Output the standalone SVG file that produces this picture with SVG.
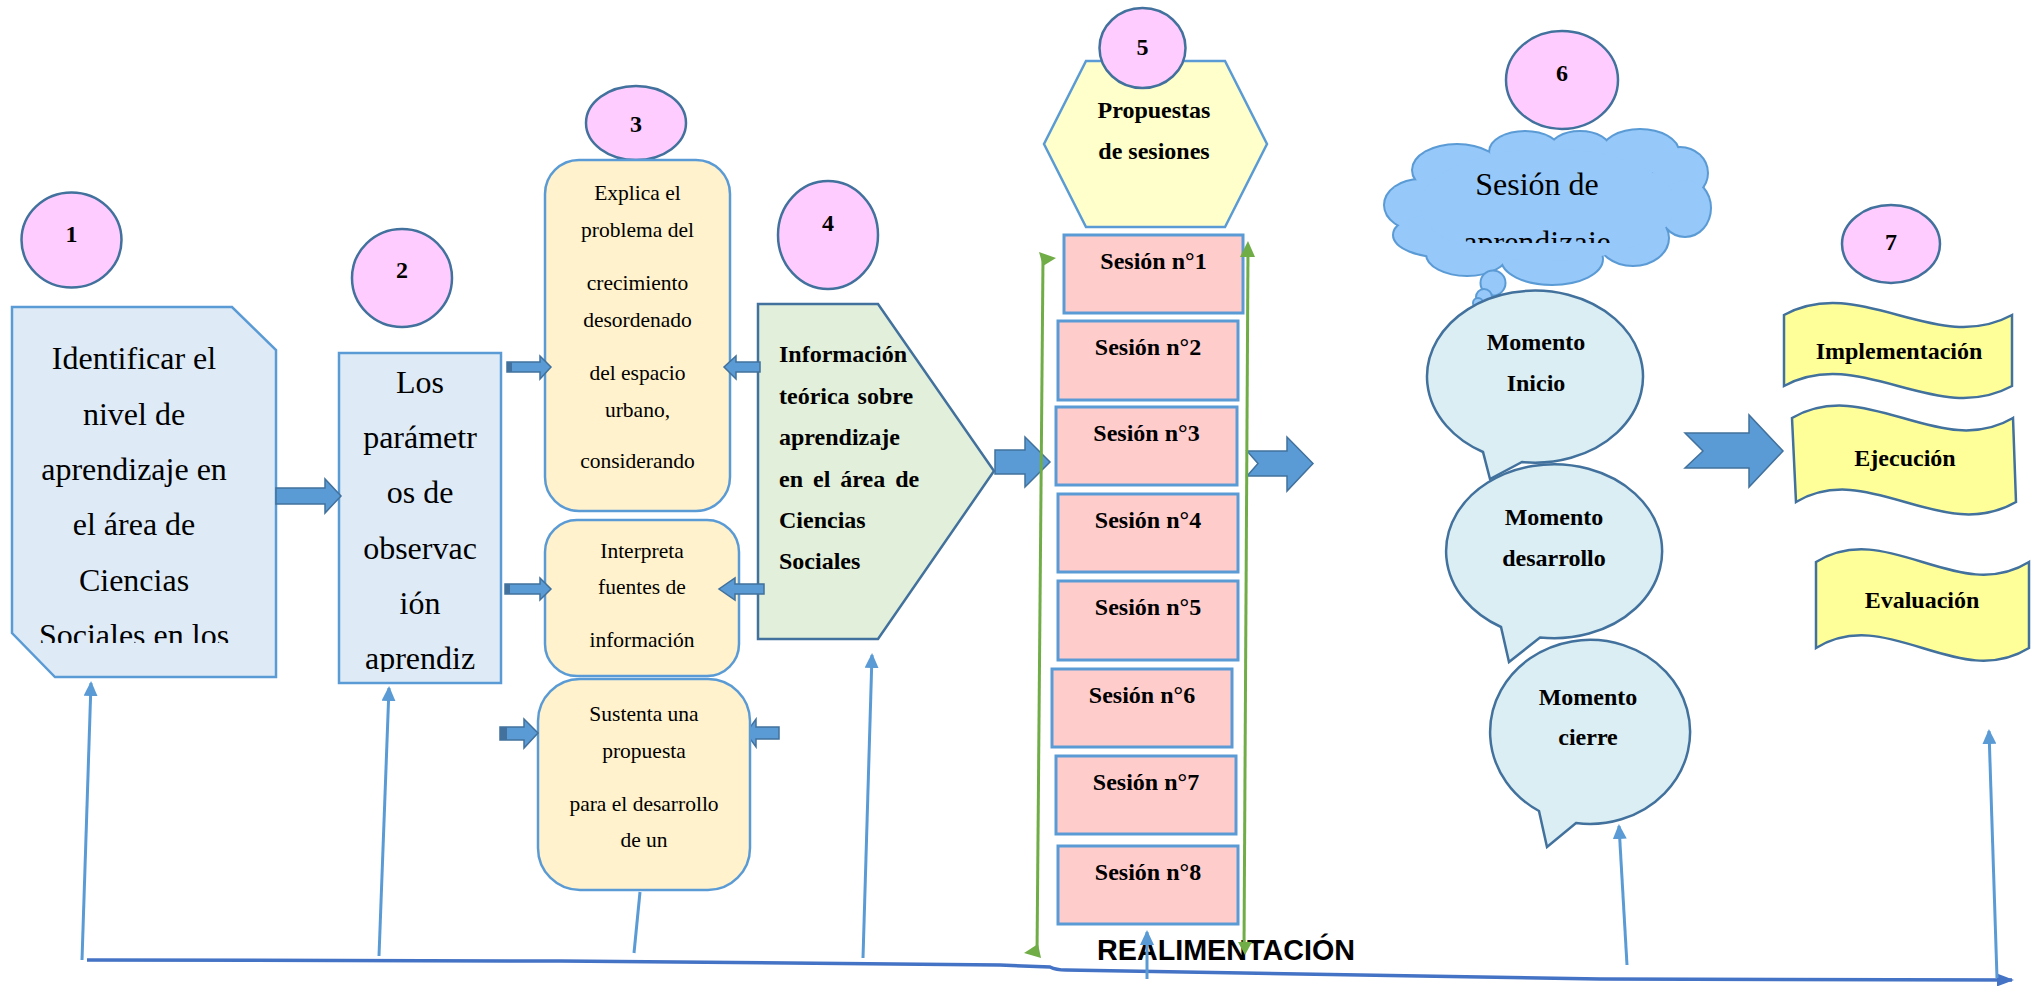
<svg xmlns="http://www.w3.org/2000/svg" width="2038" height="986" viewBox="0 0 2038 986">
<style>
.t{font-family:"Liberation Serif","Times New Roman",serif;fill:#000}
.b{font-weight:bold}
.m{text-anchor:middle}
.num{font-family:"Liberation Serif","Times New Roman",serif;font-weight:bold;font-size:24px;text-anchor:middle;fill:#000}
.circ{fill:#FFCCFF;stroke:#41719C;stroke-width:2.5}
.bluebox{fill:#DEEBF7;stroke:#5B9BD5;stroke-width:2.5}
.yel{fill:#FFF2CC;stroke:#5B9BD5;stroke-width:2.5}
.ses{fill:#FFCCCC;stroke:#5B9BD5;stroke-width:3}
.bub{fill:#DAEEF3;stroke:#41719C;stroke-width:2.5}
.ban{fill:#FFFF99;stroke:#41719C;stroke-width:2.5}
.barrow{fill:#5B9BD5;stroke:#41719C;stroke-width:1.5}
.dark{fill:#41719C}
.fb{fill:none;stroke:#5B9BD5;stroke-width:3}
.green{fill:none;stroke:#70AD47;stroke-width:3}
.gh{fill:#70AD47}
.cloudS{fill:#96C8FA;stroke:#5B9BD5;stroke-width:4}
.cloudF{fill:#96C8FA}
</style>
<defs>
<marker id="ah" markerWidth="15" markerHeight="14" refX="13" refY="7" orient="auto" markerUnits="userSpaceOnUse"><path d="M0,0 L15,7 L0,14 Z" fill="#5B9BD5"/></marker>
<marker id="ah2" markerWidth="17" markerHeight="13" refX="15" refY="6.5" orient="auto" markerUnits="userSpaceOnUse"><path d="M0,0 L17,6.5 L0,13 Z" fill="#4472C4"/></marker>
<clipPath id="c1"><rect x="12" y="300" width="270" height="343"/></clipPath>
<clipPath id="c2"><rect x="339" y="353" width="162" height="319"/></clipPath>
<clipPath id="c6"><rect x="1380" y="120" width="340" height="123"/></clipPath>
</defs>
<rect width="2038" height="986" fill="#fff"/>

<!-- Node 1 -->
<g id="node1">
<ellipse class="circ" cx="71.5" cy="240" rx="50" ry="47.5"/>
<text class="num" x="71.5" y="242">1</text>
<path class="bluebox" d="M12,307 L232,307 L276,350 L276,677 L55,677 L12,633 Z"/>
<g clip-path="url(#c1)" class="t m" font-size="32">
<text x="134" y="369">Identificar el</text>
<text x="134" y="425">nivel de</text>
<text x="134" y="480">aprendizaje en</text>
<text x="134" y="535">el área de</text>
<text x="134" y="591">Ciencias</text>
<text x="134" y="646">Sociales en los</text>
</g>
</g>

<!-- Node 2 -->
<g id="node2">
<ellipse class="circ" cx="402" cy="278" rx="50" ry="49"/>
<text class="num" x="402" y="278">2</text>
<rect class="bluebox" x="339" y="353" width="162" height="330"/>
<g clip-path="url(#c2)" class="t m" font-size="32">
<text x="420" y="393">Los</text>
<text x="420" y="448">parámetr</text>
<text x="420" y="503">os de</text>
<text x="420" y="559">observac</text>
<text x="420" y="614">ión</text>
<text x="420" y="669">aprendiz</text>
</g>
</g>

<!-- small arrow hidden partly behind box 3c -->
<g id="arrow3c-right">
<path class="barrow" d="M779,727 L756,727 L756,719 L746,733 L756,747 L756,739 L779,739 Z"/>
</g>

<!-- Node 3 -->
<g id="node3">
<ellipse class="circ" cx="636" cy="123" rx="50" ry="37"/>
<text class="num" x="636" y="132">3</text>
<rect class="yel" x="545" y="160" width="185" height="351" rx="34" ry="34"/>
<g class="t m" font-size="21.5">
<text x="637.5" y="200">Explica el</text>
<text x="637.5" y="237">problema del</text>
<text x="637.5" y="290">crecimiento</text>
<text x="637.5" y="327">desordenado</text>
<text x="637.5" y="380">del espacio</text>
<text x="637.5" y="417">urbano,</text>
<text x="637.5" y="468">considerando</text>
</g>
<rect class="yel" x="545" y="520" width="194" height="156" rx="32" ry="32"/>
<g class="t m" font-size="21.5">
<text x="642" y="558">Interpreta</text>
<text x="642" y="594">fuentes de</text>
<text x="642" y="647">información</text>
</g>
<rect class="yel" x="538" y="679" width="212" height="211" rx="42" ry="42"/>
<g class="t m" font-size="21.5">
<text x="644" y="721">Sustenta una</text>
<text x="644" y="758">propuesta</text>
<text x="644" y="811">para el desarrollo</text>
<text x="644" y="847">de un</text>
</g>
</g>

<!-- Node 4 -->
<g id="node4">
<ellipse class="circ" cx="828" cy="235" rx="50" ry="54"/>
<text class="num" x="828" y="231">4</text>
<path d="M758,304 L878,304 L994,471 L878,639 L758,639 Z" fill="#E2EFDA" stroke="#41719C" stroke-width="2.5"/>
<g class="t b" font-size="24">
<text x="779" y="362">Información</text>
<text x="779" y="404" word-spacing="2">teórica sobre</text>
<text x="779" y="445">aprendizaje</text>
<text x="779" y="487" word-spacing="4">en el área de</text>
<text x="779" y="528">Ciencias</text>
<text x="779" y="569">Sociales</text>
</g>
</g>

<!-- Node 5 -->
<g id="node5">
<polygon points="1086,61 1225,61 1267,144 1225,227 1086,227 1044,144" fill="#FFFFCC" stroke="#5B9BD5" stroke-width="2.5"/>
<ellipse class="circ" cx="1142.5" cy="48" rx="43" ry="40"/>
<text class="num" x="1142.5" y="55">5</text>
<g class="t b m" font-size="24">
<text x="1154" y="118">Propuestas</text>
<text x="1154" y="159">de sesiones</text>
</g>
</g>

<g id="sessions" class="t b m" font-size="24">
<g id="s1"><rect class="ses" x="1064" y="235" width="179" height="78"/><text x="1153.5" y="269">Sesión n°1</text></g>
<g id="s2"><rect class="ses" x="1058" y="321" width="180" height="79"/><text x="1148" y="355">Sesión n°2</text></g>
<g id="s3"><rect class="ses" x="1056" y="407" width="181" height="78"/><text x="1146.5" y="441">Sesión n°3</text></g>
<g id="s4"><rect class="ses" x="1058" y="494" width="180" height="78"/><text x="1148" y="528">Sesión n°4</text></g>
<g id="s5"><rect class="ses" x="1058" y="581" width="180" height="79"/><text x="1148" y="615">Sesión n°5</text></g>
<g id="s6"><rect class="ses" x="1052" y="669" width="180" height="78"/><text x="1142" y="703">Sesión n°6</text></g>
<g id="s7"><rect class="ses" x="1056" y="756" width="180" height="78"/><text x="1146" y="790">Sesión n°7</text></g>
<g id="s8"><rect class="ses" x="1058" y="846" width="180" height="78"/><text x="1148" y="880">Sesión n°8</text></g>
</g>

<!-- Node 6 -->
<g id="node6">
<ellipse class="circ" cx="1562" cy="80" rx="56" ry="49"/>
<text class="num" x="1562" y="81">6</text>
<g id="cloud">
<g class="cloudS">
<ellipse cx="1420" cy="205" rx="35" ry="25"/>
<ellipse cx="1447" cy="235" rx="53" ry="22"/>
<ellipse cx="1457" cy="170" rx="44" ry="25"/>
<ellipse cx="1525" cy="152" rx="35" ry="20"/>
<ellipse cx="1580" cy="150" rx="30" ry="18"/>
<ellipse cx="1640" cy="152" rx="38" ry="22"/>
<ellipse cx="1680" cy="173" rx="27" ry="25"/>
<ellipse cx="1685" cy="208" rx="25" ry="28"/>
<ellipse cx="1633" cy="238" rx="35" ry="27"/>
<ellipse cx="1552" cy="259" rx="50" ry="25"/>
<ellipse cx="1467" cy="254" rx="40" ry="21"/>
</g>
<g class="cloudF">
<ellipse cx="1420" cy="205" rx="35" ry="25"/>
<ellipse cx="1447" cy="235" rx="53" ry="22"/>
<ellipse cx="1457" cy="170" rx="44" ry="25"/>
<ellipse cx="1525" cy="152" rx="35" ry="20"/>
<ellipse cx="1580" cy="150" rx="30" ry="18"/>
<ellipse cx="1640" cy="152" rx="38" ry="22"/>
<ellipse cx="1680" cy="173" rx="27" ry="25"/>
<ellipse cx="1685" cy="208" rx="25" ry="28"/>
<ellipse cx="1633" cy="238" rx="35" ry="27"/>
<ellipse cx="1552" cy="259" rx="50" ry="25"/>
<ellipse cx="1467" cy="254" rx="40" ry="21"/>
<ellipse cx="1548" cy="205" rx="128" ry="56"/>
</g>
<circle cx="1493" cy="283" r="12.5" fill="#96C8FA" stroke="#5B9BD5" stroke-width="2"/>
<circle cx="1484" cy="297" r="8" fill="#96C8FA" stroke="#5B9BD5" stroke-width="2"/>
<circle cx="1478" cy="303" r="5" fill="#96C8FA" stroke="#5B9BD5" stroke-width="2"/>
<g clip-path="url(#c6)" class="t m" font-size="32">
<text x="1537" y="195">Sesión de</text>
<text x="1537" y="253">aprendizaje</text>
</g>
</g>
<g id="inicio">
<path class="bub" d="M1522,462 A108,86 0 1 0 1483,452 L1490,479 Z"/>
<g class="t b m" font-size="24"><text x="1536" y="350">Momento</text><text x="1536" y="391">Inicio</text></g>
</g>
<g id="desarrollo">
<path class="bub" d="M1540,637.5 A108,87 0 1 0 1501,627 L1509,662 Z"/>
<g class="t b m" font-size="24"><text x="1554" y="525">Momento</text><text x="1554" y="566">desarrollo</text></g>
</g>
<g id="cierre">
<path class="bub" d="M1576,823 A100,92 0 1 0 1539,811 L1547,847 Z"/>
<g class="t b m" font-size="24"><text x="1588" y="705">Momento</text><text x="1588" y="745">cierre</text></g>
</g>
</g>

<!-- Node 7 -->
<g id="node7">
<ellipse class="circ" cx="1891" cy="244" rx="49" ry="39"/>
<text class="num" x="1891" y="250">7</text>
<g id="impl">
<path class="ban" d="M1784,315 C1860,273.5 1936,356.5 2012,315 L2012,386 C1936,427.5 1860,344.5 1784,386 Z"/>
<text class="t b m" font-size="24" x="1899" y="359">Implementación</text>
</g>
<g id="ejec">
<path class="ban" d="M1792,418 C1866,375 1940,461 2013,418 L2016,502 C1942,545 1868,459 1796,502 Z"/>
<text class="t b m" font-size="24" x="1905" y="466">Ejecución</text>
</g>
<g id="eval">
<path class="ban" d="M1816,562 C1887,518 1958,606 2029,562 L2029,648 C1958,692 1887,604 1816,648 Z"/>
<text class="t b m" font-size="24" x="1922" y="608">Evaluación</text>
</g>
</g>

<g id="label-realimentacion">
<text x="1097" y="960" font-family="'Liberation Sans',Arial,sans-serif" font-weight="bold" font-size="29" textLength="258" lengthAdjust="spacingAndGlyphs" fill="#000">REALIMENTACIÓN</text>
</g>

<!-- Connectors -->
<g id="connectors">
<path class="barrow" d="M276,488 L325,488 L325,479 L341,496 L325,513 L325,504 L276,504 Z"/>
<path class="barrow" d="M507,362 L540,362 L540,356 L551,367 L540,379 L540,372 L507,372 Z"/>
<rect class="dark" x="507" y="362" width="5" height="10"/>
<path class="barrow" d="M760,362 L736,362 L736,356 L724,367 L736,379 L736,372 L760,372 Z"/>
<path class="barrow" d="M505,584 L540,584 L540,578 L551,589 L540,600 L540,594 L505,594 Z"/>
<rect class="dark" x="505" y="584" width="5" height="10"/>
<path class="barrow" d="M764,584 L735,584 L735,578 L719,589 L735,600 L735,594 L764,594 Z"/>
<path class="barrow" d="M500,727 L524,727 L524,719 L538,733 L524,748 L524,740 L500,740 Z"/>
<rect class="dark" x="500" y="727" width="7" height="13"/>
<path class="barrow" d="M995,450 L1025,450 L1025,437 L1050,462 L1025,487 L1025,474 L995,474 Z"/>
<path class="barrow" d="M1247,451 L1287,451 L1287,437 L1313,463.5 L1287,491 L1287,476 L1247,476 L1258,463.5 Z"/>
<path class="barrow" d="M1685,433 L1749,433 L1749,415 L1783,451 L1749,487 L1749,468 L1685,468 L1703,451 Z"/>
<path class="green" d="M1043,258 L1037,955"/>
<polygon class="gh" points="1039,252 1056,258 1043,266"/>
<polygon class="gh" points="1024,953 1038,944 1041,958"/>
<path class="green" d="M1248,250 L1244,948"/>
<polygon class="gh" points="1248,241 1255,257 1240,257"/>
<polygon class="gh" points="1238,942 1252,942 1245,955"/>
<path d="M87,960 L560,961 L1000,965 L1050,967 Q1056,970 1066,970 L1420,976 L1600,979 L2012,980" fill="none" stroke="#4472C4" stroke-width="3.5" marker-end="url(#ah2)"/>
<path class="fb" d="M82,960 L91,683" marker-end="url(#ah)"/>
<path class="fb" d="M379,956 L389,688" marker-end="url(#ah)"/>
<path class="fb" d="M640,892 L634,953"/>
<path class="fb" d="M863,958 L872,655" marker-end="url(#ah)"/>
<path class="fb" d="M1147,979 L1147,932" marker-end="url(#ah)"/>
<path class="fb" d="M1627,965 L1619,826" marker-end="url(#ah)"/>
<path class="fb" d="M1997,978 L1989,731" marker-end="url(#ah)"/>
</g>
</svg>
